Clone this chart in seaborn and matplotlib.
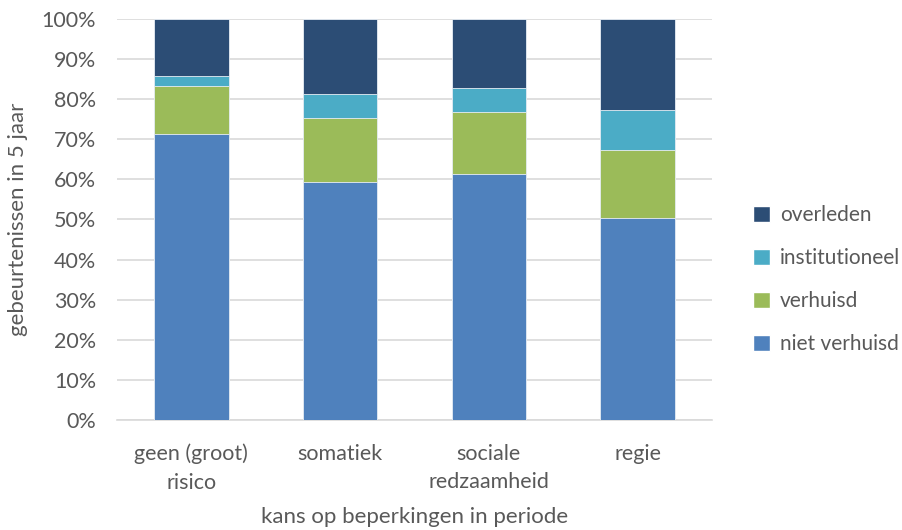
import seaborn as sns
import matplotlib.pyplot as plt
import pandas as pd
from matplotlib.patches import Patch
from matplotlib.ticker import PercentFormatter

sns.set_theme(style="white")
plt.rcParams['font.family'] = ['Lato', 'DejaVu Sans']

# data (aandeel in %)
categories = ["geen (groot)\nrisico", "somatiek", "sociale\nredzaamheid", "regie"]
niet_verhuisd = [71.3, 59.4, 61.4, 50.4]
verhuisd = [12.0, 15.9, 15.4, 17.0]
institutioneel = [2.5, 6.0, 6.0, 9.9]
overleden = [14.2, 18.7, 17.2, 22.7]

series = ["niet verhuisd", "verhuisd", "institutioneel", "overleden"]
colors = ["#4F81BD", "#9BBB59", "#4BACC6", "#2C4D75"]

df = pd.DataFrame({"categorie": categories,
                   "niet verhuisd": niet_verhuisd,
                   "verhuisd": verhuisd,
                   "institutioneel": institutioneel,
                   "overleden": overleden})
cum = df[series].cumsum(axis=1)
cum["categorie"] = df["categorie"]

fig = plt.figure(figsize=(9.03, 5.3), dpi=100)
ax = fig.add_axes([0.1296, 0.2075, 0.6589, 0.7567])

# stacked bars: draw cumulative totals from top down
for s, c in reversed(list(zip(series, colors))):
    sns.barplot(data=cum, x="categorie", y=s, color=c, width=0.5,
                saturation=1, ax=ax, zorder=3, edgecolor="#E8EEF5", linewidth=0.6)

ax.set_ylim(0, 100)
ax.set_xlim(-0.5, 3.5)
ax.set_yticks(range(0, 101, 10))
ax.yaxis.set_major_formatter(PercentFormatter(decimals=0))
ax.grid(axis="y", color="#D9D9D9", linewidth=1.2, zorder=0)
ax.set_axisbelow(True)
for sp in ["top", "right", "left"]:
    ax.spines[sp].set_visible(False)
ax.spines["bottom"].set_color("#D9D9D9")
ax.spines["bottom"].set_linewidth(1.2)

tc = "#595959"
fs = 15.5
ax.tick_params(axis="both", colors=tc, labelsize=fs, length=0)
ax.tick_params(axis="x", pad=17)
ax.tick_params(axis="y", pad=15)
for lbl in ax.get_xticklabels():
    lbl.set_linespacing(1.55)
ax.set_xlabel("kans op beperkingen in periode", fontsize=fs + 0.5, color=tc, labelpad=10)
ax.set_ylabel("gebeurtenissen in 5 jaar", fontsize=fs + 0.5, color=tc, labelpad=10)

handles = [Patch(facecolor=c, label=s) for s, c in zip(series, colors)][::-1]
fig.legend(handles=handles, loc="center left", bbox_to_anchor=(0.834, 0.472),
           frameon=False, fontsize=15, labelcolor=tc, handlelength=0.8,
           handleheight=0.8, handletextpad=0.5, labelspacing=1.1,
           borderpad=0, borderaxespad=0)

fig.savefig("out.png", dpi=100)
